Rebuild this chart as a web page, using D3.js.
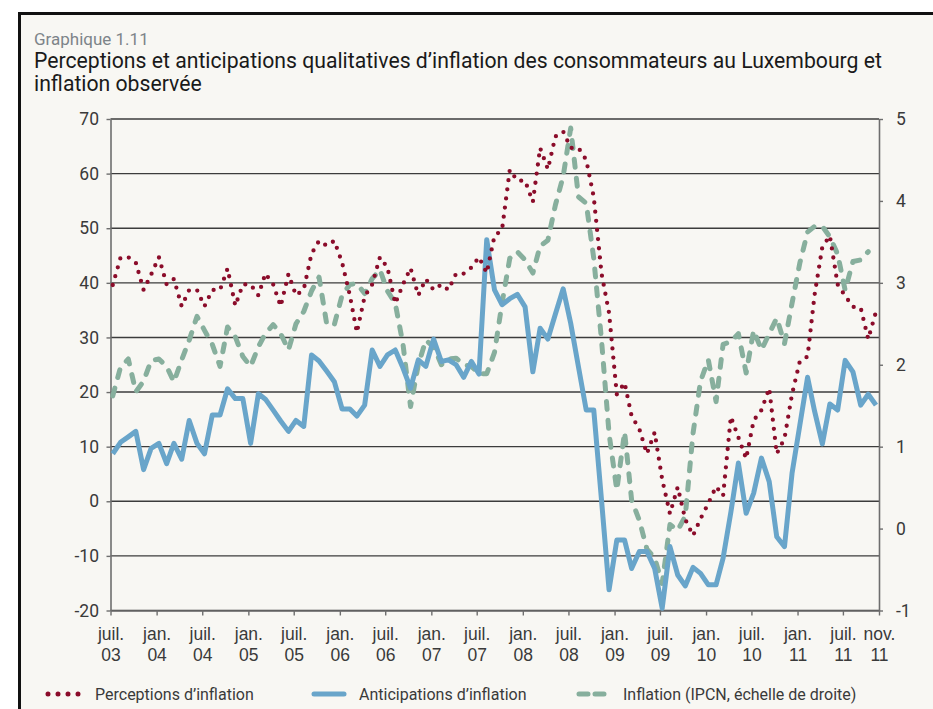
<!DOCTYPE html>
<html lang="fr">
<head>
<meta charset="utf-8">
<script src="https://cdn.jsdelivr.net/npm/d3@7/dist/d3.min.js"></script>
<style>
  body { margin: 0; background: #fff; }
  svg { display: block; font-family: Roboto, "Liberation Sans", sans-serif; }
</style>
</head>
<body>
<div id="container"></div>
<script>
/*==================================================
    DATA
===================================================*/
// one value per month, juil. 2003 -> nov. 2011
const perceptions = [
  39.6, 44.6, 44.7, 43.7, 38.7, 41.5, 44.7, 39.7, 40.7, 35.7,
  38.7, 38.7, 35.7, 38.7, 38.7, 42.6, 35.8, 39.7, 39.7, 37.7,
  41.7, 39.7, 35.7, 41.6, 37.7, 38.8, 45.3, 47.7, 46.8, 47.7,
  43.7, 37.7, 30.9, 37.5, 39.7, 44.7, 42.8, 36.2, 39.7, 42.7,
  37.7, 40.7, 38.7, 39.7, 38.7, 41.7, 41.7, 42.8, 44.7, 41.8,
  48.6, 49.7, 60.7, 58.7, 58.7, 54.8, 64.7, 60.8, 66.8, 67.7,
  64.7, 64.7, 62.5, 55.7, 41.7, 34.5, 19.6, 21.7, 15.6, 13.2,
  8.7, 12.6, 4.0, -2.3, 2.6, -3.3, -6.3, -3.2, -0.4, 2.7,
  1.0, 15.5, 11.7, 7.8, 14.8, 16.7, 20.7, 8.7, 11.5, 19.6,
  25.6, 26.5, 37.8, 46.6, 48.6, 39.7, 37.6, 35.6, 35.4, 29.7,
  34.7
];

const anticipations = [
  8.7, 10.8, 11.8, 12.8, 5.8, 9.7, 10.6, 6.9, 10.6, 7.7,
  14.8, 10.6, 8.7, 15.8, 15.8, 20.6, 18.8, 18.8, 10.6, 19.7,
  18.7, 16.7, 14.7, 12.8, 14.8, 13.7, 26.8, 25.7, 23.8, 21.9,
  16.9, 16.9, 15.6, 17.6, 27.7, 24.7, 26.8, 27.7, 24.4, 20.7,
  25.9, 24.7, 29.7, 25.6, 25.9, 25.0, 22.7, 25.6, 23.3, 47.9,
  38.7, 36.0, 37.1, 37.9, 35.6, 23.7, 31.7, 29.7, 34.3, 38.9,
  32.6, 24.6, 16.7, 16.7, 0.2, -16.2, -7.1, -7.1, -12.3, -9.2,
  -9.2, -12.3, -19.6, -8.3, -13.5, -15.5, -12.1, -13.2, -15.3, -15.3,
  -10.4, -2.0, 7.0, -2.2, 1.5, 7.9, 3.6, -6.5, -8.3, 5.1,
  13.9, 22.7, 16.5, 10.5, 17.8, 16.7, 25.8, 23.7, 17.6, 19.6,
  17.6
];

// IPCN, right scale, juil. 2003 -> oct. 2011
const inflation = [
  1.62, 1.97, 2.07, 1.67, 1.80, 2.05, 2.07, 1.98, 1.79, 2.06,
  2.30, 2.59, 2.42, 2.25, 1.98, 2.46, 2.34, 2.10, 1.98, 2.22,
  2.38, 2.49, 2.38, 2.18, 2.50, 2.65, 2.90, 3.07, 2.49, 2.49,
  2.85, 2.98, 2.99, 2.87, 3.05, 3.16, 2.90, 2.75, 2.25, 1.49,
  2.00, 2.30, 2.22, 2.00, 2.07, 2.08, 2.00, 1.98, 1.89, 1.89,
  2.15, 2.75, 3.30, 3.38, 3.28, 3.12, 3.45, 3.52, 3.95, 4.30,
  4.89, 4.05, 3.97, 3.30, 2.30, 1.16, 0.47, 1.18, 0.35, 0.10,
  -0.25, -0.36, -0.67, 0.05, -0.02, 0.15, 1.16, 1.80, 2.06, 1.55,
  2.25, 2.28, 2.38, 1.90, 2.42, 2.18, 2.38, 2.57, 2.26, 2.75,
  3.24, 3.62, 3.69, 3.69, 3.56, 3.35, 2.91, 3.26, 3.28, 3.38
];

const leftTicks = [70, 60, 50, 40, 30, 20, 10, 0, -10, -20];
const rightTicks = [5, 4, 3, 2, 1, 0, -1];
const xTickLabels = [
  ['juil.', '03'], ['jan.', '04'], ['juil.', '04'], ['jan.', '05'], ['juil.', '05'],
  ['jan.', '06'], ['juil.', '06'], ['jan.', '07'], ['juil.', '07'], ['jan.', '08'],
  ['juil.', '08'], ['jan.', '09'], ['juil.', '09'], ['jan.', '10'], ['juil.', '10'],
  ['jan.', '11'], ['juil.', '11'], ['nov.', '11']
];

const seriesNames = [
  'Perceptions d\u2019inflation',
  'Anticipations d\u2019inflation',
  'Inflation (IPCN, \u00e9chelle de droite)'
];

// colours
const red = '#8b0c2a';
const blue = '#69a5ca';
const green = '#87af9d';

// months (the observation sits a few days after the 1st)
const monthStarts = d3.timeMonth.range(new Date(2003, 6, 1), new Date(2011, 11, 1));
const dates = monthStarts.map(d => d3.timeDay.offset(d, 9));

/*==================================================
    CANVAS
===================================================*/
const W = 933;
const H = 709;

const margin = { top: 119, right: 54, bottom: 98.5, left: 110.5 };
const width = W - margin.left - margin.right;
const height = H - margin.top - margin.bottom;

const container = d3.select('#container');

const svg = container
  .append('svg')
  .attr('width', W)
  .attr('height', H);

// frame
svg.append('rect')
  .attr('x', 19.5)
  .attr('y', 13.5)
  .attr('width', W + 20)
  .attr('height', H + 20)
  .attr('fill', '#f8f7f3')
  .attr('stroke', '#111')
  .attr('stroke-width', 3);

// titles
svg.append('text')
  .attr('x', 34)
  .attr('y', 45)
  .attr('font-size', 17)
  .attr('fill', '#7d8489')
  .text('Graphique 1.11');

const titleLines = [
  'Perceptions et anticipations qualitatives d\u2019inflation des consommateurs au Luxembourg et',
  'inflation observ\u00e9e'
];
svg.selectAll('.title')
  .data(titleLines)
  .enter()
  .append('text')
  .attr('class', 'title')
  .attr('x', 34)
  .attr('y', (d, i) => 67.5 + i * 23)
  .attr('font-size', 21.2)
  .attr('fill', '#1a1a1a')
  .text(d => d);

const g = svg.append('g')
  .attr('transform', `translate(${margin.left}, ${margin.top})`);

/*==================================================
    SCALES
===================================================*/
const xScale = d3.scaleTime()
  .domain([monthStarts[0], new Date(2011, 10, 22)])
  .range([0, width]);

const yScale = d3.scaleLinear()
  .domain([-20, 70])
  .range([height, 0]);

const y2Scale = d3.scaleLinear()
  .domain([-1, 5])
  .range([height, 0]);

/*==================================================
    GRID
===================================================*/
g.append('g')
  .selectAll('line')
  .data(leftTicks)
  .enter()
  .append('line')
  .attr('x1', 0)
  .attr('x2', width)
  .attr('y1', d => yScale(d))
  .attr('y2', d => yScale(d))
  .attr('stroke', '#3c3c3c')
  .attr('stroke-width', 1.4);

/*==================================================
    AXES
===================================================*/
const axisColor = '#6e6e6e';
const plainNumber = d => `${d}`;

const yAxis = d3.axisLeft(yScale)
  .tickValues(leftTicks)
  .tickFormat(plainNumber)
  .tickSize(4)
  .tickSizeOuter(0)
  .tickPadding(7.5);

const y2Axis = d3.axisRight(y2Scale)
  .tickValues(rightTicks)
  .tickFormat(plainNumber)
  .tickSize(4)
  .tickSizeOuter(0)
  .tickPadding(13);

const xTickValues = monthStarts.filter((d, i) => i % 6 === 0).concat([xScale.domain()[1]]);

const xAxis = d3.axisBottom(xScale)
  .tickValues(xTickValues)
  .tickSize(5)
  .tickSizeOuter(0)
  .tickFormat('');

const styleAxis = sel => {
  sel.select('.domain').attr('stroke', axisColor).attr('stroke-width', 1.6);
  sel.selectAll('.tick line').attr('stroke', axisColor).attr('stroke-width', 1.4);
  sel.selectAll('.tick text')
    .attr('fill', '#3a3a3a')
    .attr('font-size', 17.5)
    .attr('font-family', 'Roboto, "Liberation Sans", sans-serif');
};

g.append('g')
  .attr('id', 'y-axis')
  .call(yAxis)
  .call(styleAxis);

g.append('g')
  .attr('id', 'y2-axis')
  .attr('transform', `translate(${width}, 0)`)
  .call(y2Axis)
  .call(styleAxis);

const xAxisG = g.append('g')
  .attr('id', 'x-axis')
  .attr('transform', `translate(0, ${height})`)
  .call(xAxis)
  .call(styleAxis);

// two-line month labels
xAxisG.selectAll('.tick')
  .append('text')
  .attr('fill', '#3a3a3a')
  .attr('font-size', 17.5)
  .attr('text-anchor', 'middle')
  .selectAll('tspan')
  .data((d, i) => xTickLabels[i])
  .enter()
  .append('tspan')
  .attr('x', 0)
  .attr('y', (d, i) => 29.5 + i * 21)
  .text(d => d);

/*==================================================
    LINES
===================================================*/
const leftLine = d3.line()
  .x((d, i) => xScale(dates[i]))
  .y(d => yScale(d));

const rightLine = d3.line()
  .x((d, i) => xScale(dates[i]))
  .y(d => y2Scale(d));

g.append('path')
  .datum(inflation)
  .attr('d', rightLine)
  .attr('fill', 'none')
  .attr('stroke', green)
  .attr('stroke-width', 5)
  .attr('stroke-linecap', 'round')
  .attr('stroke-linejoin', 'round')
  .attr('stroke-dasharray', '8,11');

g.append('path')
  .datum(anticipations)
  .attr('d', leftLine)
  .attr('fill', 'none')
  .attr('stroke', blue)
  .attr('stroke-width', 5)
  .attr('stroke-linejoin', 'round');

g.append('path')
  .datum(perceptions)
  .attr('d', leftLine)
  .attr('fill', 'none')
  .attr('stroke', red)
  .attr('stroke-width', 4.3)
  .attr('stroke-linecap', 'round')
  .attr('stroke-dasharray', '0,9.2');

/*==================================================
    LEGEND
===================================================*/
const legendItems = [
  { x1: 48, x2: 79, text: 95, color: red, width: 5, dash: '0,10', cap: 'round' },
  { x1: 314, x2: 344, text: 359, color: blue, width: 5, dash: null, cap: 'round' },
  { x1: 579, x2: 607, text: 623, color: green, width: 5, dash: '9,7', cap: 'round' }
];

const legend = svg.append('g').attr('id', 'legend');

legend.selectAll('line')
  .data(legendItems)
  .enter()
  .append('line')
  .attr('x1', d => d.x1)
  .attr('x2', d => d.x2)
  .attr('y1', 694)
  .attr('y2', 694)
  .attr('stroke', d => d.color)
  .attr('stroke-width', d => d.width)
  .attr('stroke-linecap', d => d.cap)
  .attr('stroke-dasharray', d => d.dash);

legend.selectAll('text')
  .data(legendItems)
  .enter()
  .append('text')
  .attr('x', d => d.text)
  .attr('y', 700)
  .attr('font-size', 16)
  .attr('fill', '#3a3a3a')
  .text((d, i) => seriesNames[i]);
</script>
</body>
</html>
